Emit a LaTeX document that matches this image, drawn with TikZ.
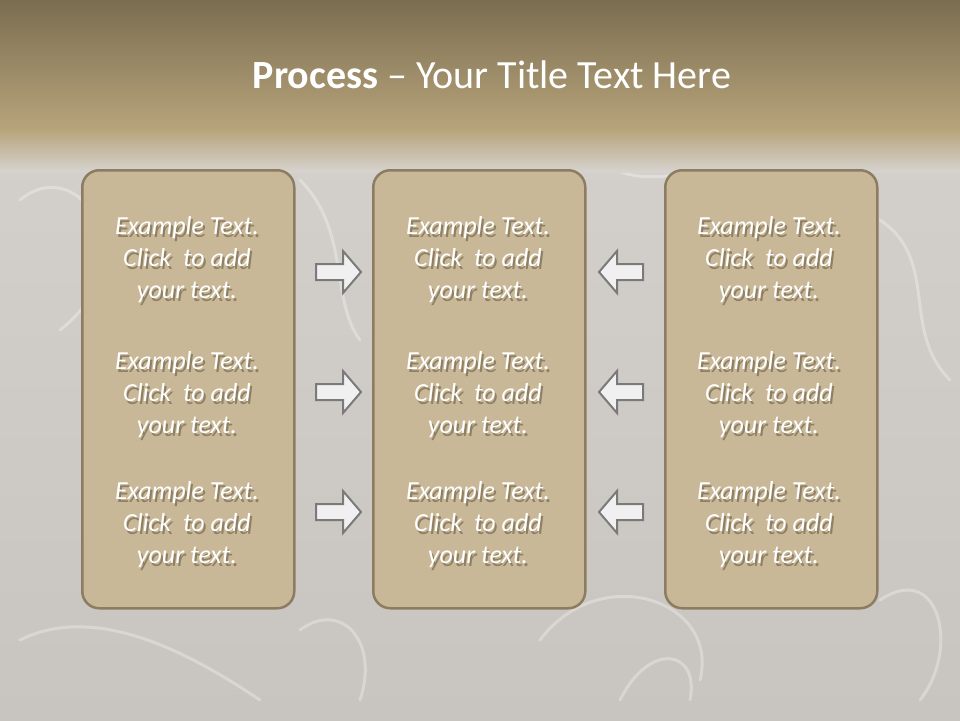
\documentclass[tikz,border=0pt]{standalone}
\usepackage{fontspec}
\setmainfont{Carlito}
\definecolor{bgA}{HTML}{D6D3CF}
\definecolor{bgB}{HTML}{C8C4BF}
\definecolor{bandTop}{HTML}{7B6D50}
\definecolor{bandBot}{HTML}{B7A47B}
\definecolor{boxFill}{HTML}{C9B898}
\definecolor{boxLine}{HTML}{8C7D62}
\definecolor{arrFill}{HTML}{F0F0F0}
\definecolor{arrLine}{HTML}{7A7A7A}
\definecolor{shadowC}{HTML}{8F8064}
\newcommand{\shtext}[1]{\leavevmode\rlap{\raisebox{-2.5pt}{\hspace{2pt}\textcolor{shadowC}{#1}}}#1}
\tikzset{
  x=1pt,y=-1pt,
  panel/.style={draw=boxLine,line width=2.5pt,fill=boxFill,rounded corners=17pt},
  blockarrow/.style={draw=arrLine,fill=arrFill,line width=2pt,line join=miter},
  swirl/.style={draw=white,opacity=0.3,line width=3pt,line cap=round},
  bodytxt/.style={text=white,align=center,font=\fontsize{26}{32}\selectfont\itshape},
}
\begin{document}
\begin{tikzpicture}
\useasboundingbox (0,0) rectangle (960,720);
% background
\shade[top color=bgA,bottom color=bgB] (0,0) rectangle (960,720);
% faint texture swirls
\draw[swirl] (20,200) .. controls (80,150) and (150,260) .. (60,330);
\draw[swirl] (300,180) .. controls (350,230) and (330,300) .. (360,340);
\draw[swirl] (600,160) .. controls (650,200) and (700,150) .. (760,190);
\draw[swirl] (880,220) .. controls (940,260) and (900,330) .. (950,380);
\draw[swirl] (540,640) .. controls (600,560) and (720,600) .. (700,680);
\draw[swirl] (620,700) .. controls (650,640) and (700,650) .. (690,700);
\draw[swirl] (880,600) .. controls (940,560) and (960,650) .. (920,700);
\draw[swirl] (20,640) .. controls (100,600) and (200,660) .. (260,700);
\draw[swirl] (300,630) .. controls (340,600) and (380,640) .. (360,700);
% title band
\shade[top color=bandTop,bottom color=bandBot] (0,0) rectangle (960,130);
\shade[top color=bandBot,bottom color=bgA] (0,129.5) rectangle (960,172);
\node[text=white,font=\fontsize{40}{44}\selectfont] (title) at (492,75) {\textbf{Process} – Your Title Text Here};
% panels
\node[panel,minimum width=212pt,minimum height=438pt,anchor=north west] (p1) at (81,169) {};
\node[panel,minimum width=212pt,minimum height=438pt,anchor=north west] (p2) at (372,169) {};
\node[panel,minimum width=212pt,minimum height=438pt,anchor=north west] (p3) at (664,169) {};
% texts
\foreach \c/\x in {1/187,2/478,3/769}{
  \node[bodytxt] (t\c a) at (\x,261) {\shtext{Example Text.}\\\shtext{Click\ \ to add}\\\shtext{your text.}};
  \node[bodytxt] (t\c b) at (\x,396) {\shtext{Example Text.}\\\shtext{Click\ \ to add}\\\shtext{your text.}};
  \node[bodytxt] (t\c c) at (\x,526) {\shtext{Example Text.}\\\shtext{Click\ \ to add}\\\shtext{your text.}};
}
% block arrows
\foreach \y in {272,392,512}{
  \draw[blockarrow] (316,\y-8) -- (343,\y-8) -- (343,\y-21) -- (361,\y) -- (343,\y+21) -- (343,\y+8) -- (316,\y+8) -- cycle;
  \draw[blockarrow] (643,\y-8) -- (617,\y-8) -- (617,\y-21) -- (599,\y) -- (617,\y+21) -- (617,\y+8) -- (643,\y+8) -- cycle;
}
\end{tikzpicture}
\end{document}
